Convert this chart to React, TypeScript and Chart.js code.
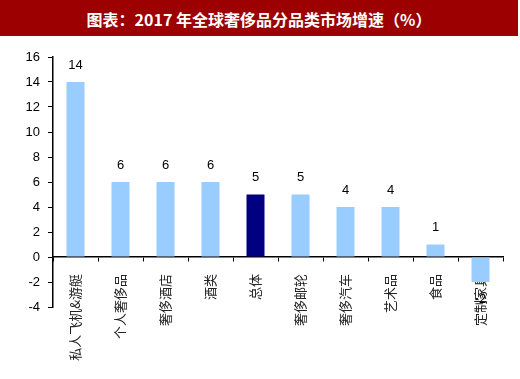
import React, { useEffect, useRef } from "react";
import { Chart, registerables } from "chart.js";

Chart.register(...registerables);

const categories = ["私人飞机&游艇", "个人奢侈品", "奢侈酒店", "酒类", "总体", "奢侈邮轮", "奢侈汽车", "艺术品", "食品", "定制家具"];
const growth = [14, 6, 6, 6, 5, 5, 4, 4, 1, -2];
const barColors = ["#99CCFF", "#99CCFF", "#99CCFF", "#99CCFF", "#000080", "#99CCFF", "#99CCFF", "#99CCFF", "#99CCFF", "#99CCFF"];
const titleText = "图表：2017 年全球奢侈品分品类市场增速（%）";

const valueLabels = {
  id: "valueLabels",
  afterDraw(chart: any) {
    const ctx = chart.ctx;
    const meta = chart.getDatasetMeta(0);
    const data = chart.data.datasets[0].data as number[];
    ctx.save();
    ctx.font = '13px "Liberation Sans", Arial, sans-serif';
    ctx.fillStyle = "#000";
    ctx.textAlign = "center";
    ctx.textBaseline = "middle";
    meta.data.forEach((el: any, i: number) => {
      const v = data[i];
      const y = v >= 0 ? el.y - 17 : el.y + 17;
      ctx.fillText(String(v), el.x, y);
    });
    ctx.restore();
  },
};

export default function App() {
  const ref = useRef<HTMLCanvasElement>(null);
  useEffect(() => {
    if (!ref.current) return;
    const chart = new Chart(ref.current, {
      type: "bar",
      data: {
        labels: categories,
        datasets: [
          {
            data: growth,
            backgroundColor: barColors,
            borderWidth: 0,
            barPercentage: 0.4,
            categoryPercentage: 1,
          },
        ],
      },
      options: {
        animation: false,
        responsive: false,
        maintainAspectRatio: false,
        layout: { padding: { left: 0, right: 17, top: 21, bottom: 72 } },
        plugins: { legend: { display: false }, tooltip: { enabled: false }, title: { display: false } },
        scales: {
          x: {
            position: { y: 0 } as any,
            z: 1,
            grid: { display: true, drawOnChartArea: false, drawTicks: true, tickLength: 4, color: "#000", offset: true },
            border: { display: true, color: "#000", width: 1.5 },
            ticks: {
              autoSkip: false,
              maxRotation: 90,
              minRotation: 90,
              padding: 13,
              color: "#222",
              font: { family: '"Noto Sans CJK SC", sans-serif', size: 13 },
            },
          },
          y: {
            min: -4,
            max: 16,
            afterFit: (scale: any) => {
              scale.width = 53;
            },
            grid: { display: true, drawOnChartArea: false, drawTicks: true, tickLength: 5, color: "#000" },
            border: { display: true, color: "#000", width: 1.5 },
            ticks: {
              stepSize: 2,
              padding: 8,
              color: "#000",
              font: { family: '"Liberation Sans", Arial, sans-serif', size: 13 },
            },
          },
        },
      },
      plugins: [valueLabels],
    });
    return () => chart.destroy();
  }, []);

  return (
    <div style={{ position: "absolute", left: 0, top: 0, width: 520, height: 379, background: "#fff" }}>
      <div
        style={{
          position: "absolute",
          left: 0,
          top: 0,
          width: 518,
          height: 36,
          background: "#9C0000",
          color: "#fff",
          textAlign: "center",
          lineHeight: "39px",
          fontFamily: '"Noto Sans CJK SC", sans-serif',
          fontWeight: 700,
          fontSize: 16,
          whiteSpace: "nowrap",
        }}
      >
        {titleText}
      </div>
      <canvas ref={ref} width={520} height={343} style={{ position: "absolute", left: 0, top: 36, width: 520, height: 343 }} />
    </div>
  );
}
